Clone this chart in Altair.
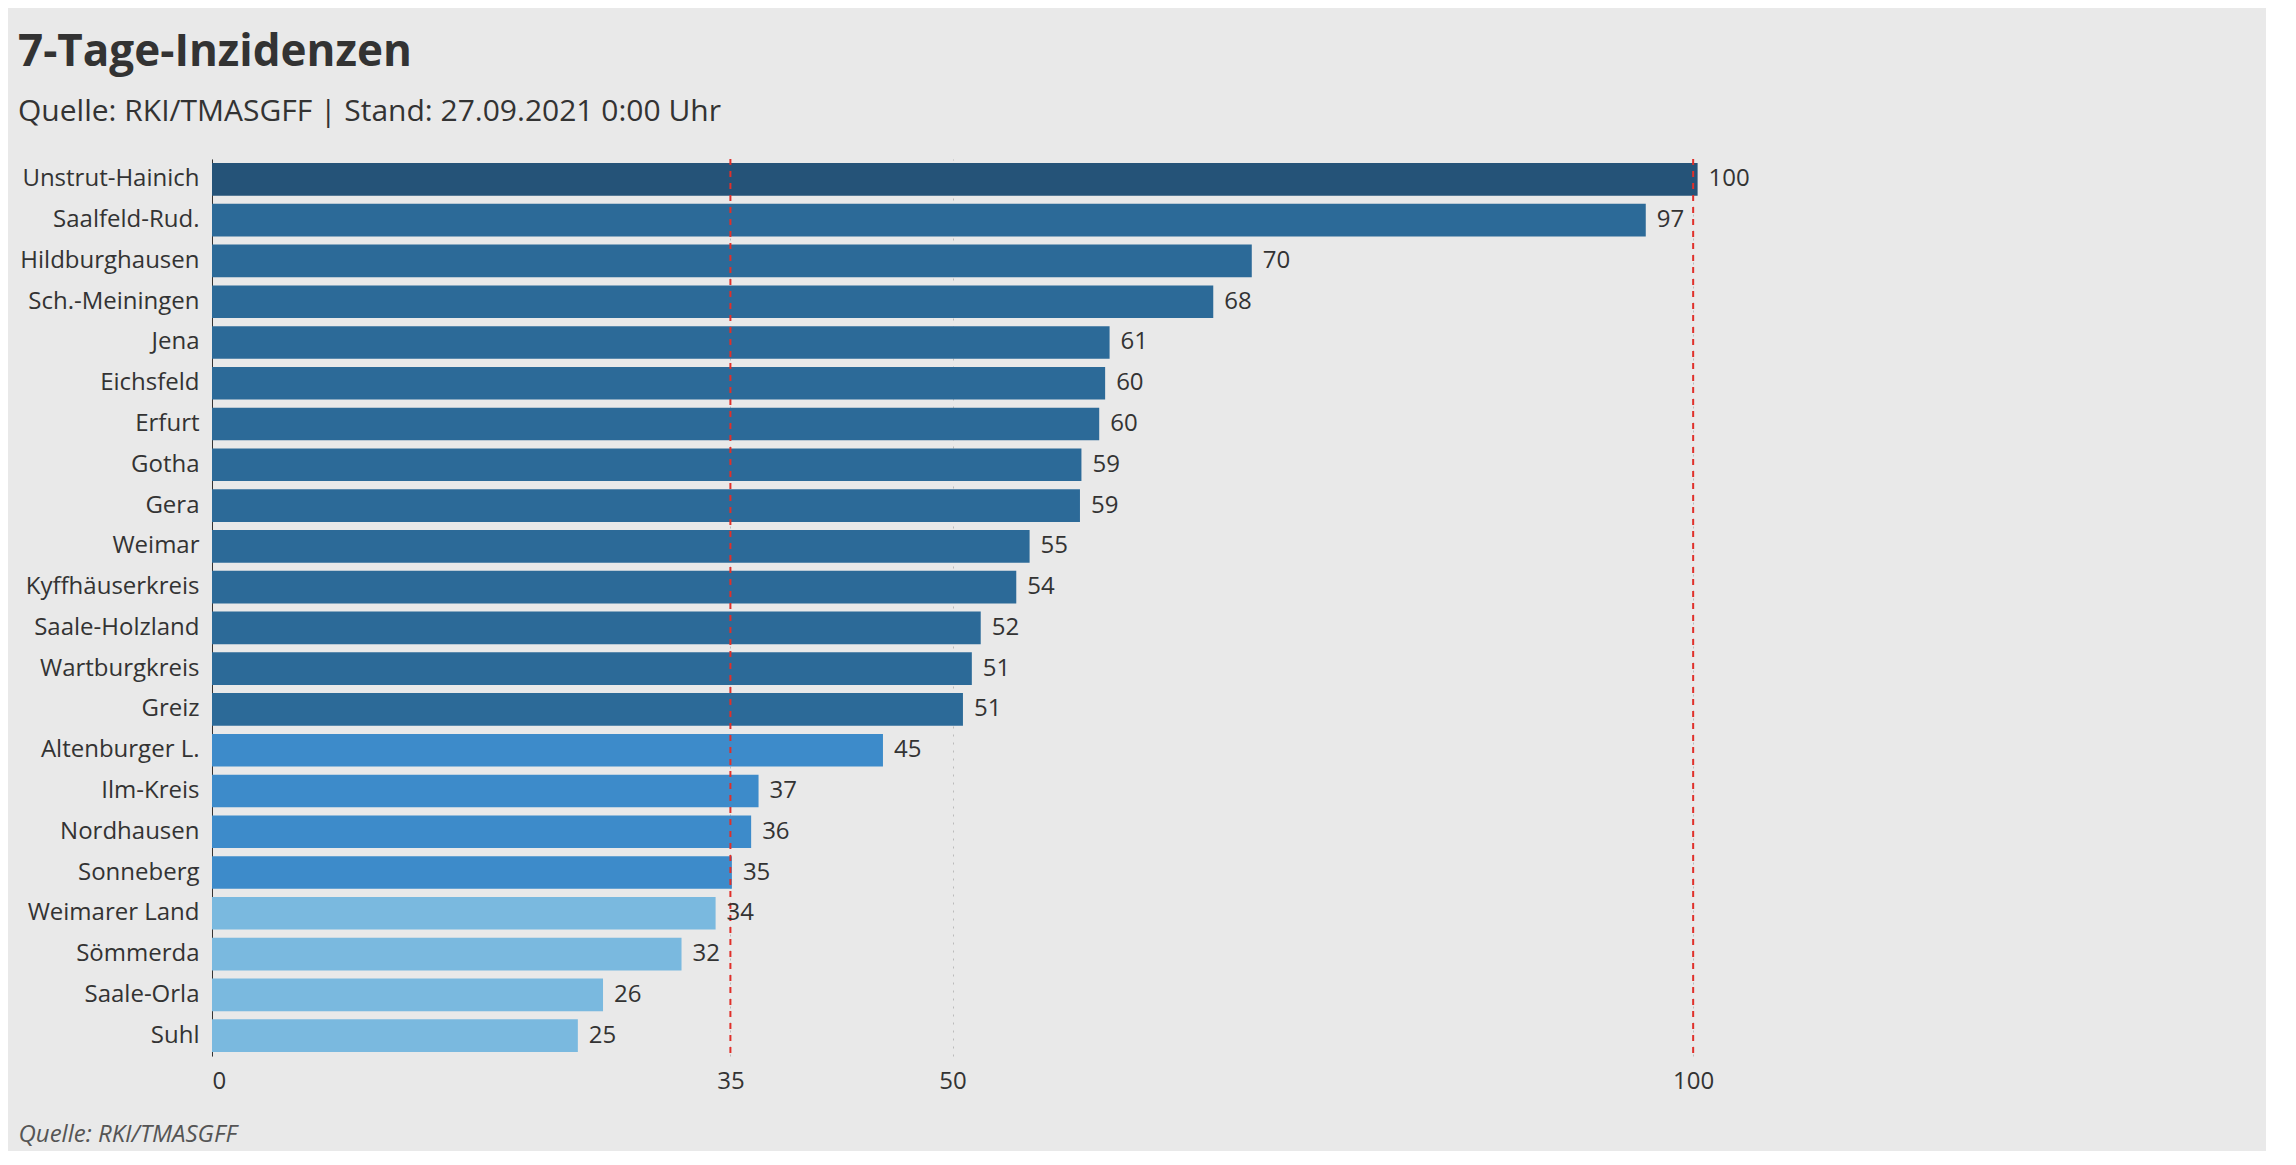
import altair as alt
import pandas as pd

kreise = ["Unstrut-Hainich", "Saalfeld-Rud.", "Hildburghausen", "Sch.-Meiningen", "Jena",
          "Eichsfeld", "Erfurt", "Gotha", "Gera", "Weimar", "Kyffhäuserkreis",
          "Saale-Holzland", "Wartburgkreis", "Greiz", "Altenburger L.", "Ilm-Kreis",
          "Nordhausen", "Sonneberg", "Weimarer Land", "Sömmerda", "Saale-Orla", "Suhl"]
inzidenz = [100.3, 96.8, 70.2, 67.6, 60.6, 60.3, 59.9, 58.7, 58.6, 55.2, 54.3,
            51.9, 51.3, 50.7, 45.3, 36.9, 36.4, 35.1, 34.0, 31.7, 26.4, 24.7]
schwellen = [35, 100]
tick_werte = [0, 35, 50, 100]
stufen = ["unter 35", "35 bis 50", "50 bis 100", "ab 100"]
farben = ["#7ab9df", "#3d8bca", "#2c6a98", "#255378"]

def stufe(v):
    if v >= 100:
        return stufen[3]
    if v >= 50:
        return stufen[2]
    if v >= 35:
        return stufen[1]
    return stufen[0]

df = pd.DataFrame({"Kreis": kreise, "Inzidenz": inzidenz})
df["Stufe"] = [stufe(v) for v in inzidenz]
df_s = pd.DataFrame({"Schwelle": schwellen})

FONT = "Open Sans"
TXT = "#333333"

x_scale = alt.Scale(domain=[0, 138], nice=False, zero=True)

bars = alt.Chart(df).mark_bar().encode(
    y=alt.Y("Kreis:N", sort=kreise,
            scale=alt.Scale(paddingInner=0.2, paddingOuter=0.1),
            axis=alt.Axis(title=None, ticks=False, domain=True, domainColor=TXT,
                          domainWidth=1, labelFontSize=24, labelColor=TXT,
                          labelFont=FONT, labelPadding=13, grid=False)),
    x=alt.X("Inzidenz:Q", scale=x_scale,
            axis=alt.Axis(values=tick_werte, title="Quelle: RKI/TMASGFF",
                          ticks=False, domain=False, labelFontSize=24,
                          labelColor=TXT, labelFont=FONT, labelPadding=13,
                          grid=True, gridColor="#bbbbbb", gridDash=[2, 6],
                          gridWidth=1, titleFont=FONT, titleFontSize=24,
                          titleFontStyle="italic", titleFontWeight="normal",
                          titleColor="#555555", titleAnchor="start",
                          titleAlign="left", titleX=-194, titleY=90,
                          titleBaseline="bottom")),
    color=alt.Color("Stufe:N", scale=alt.Scale(domain=stufen, range=farben),
                    legend=None),
)

labels = alt.Chart(df).mark_text(align="left", baseline="middle", dx=11,
                                 fontSize=24, font=FONT, color=TXT).encode(
    y=alt.Y("Kreis:N", sort=kreise),
    x=alt.X("Inzidenz:Q", scale=x_scale),
    text=alt.Text("Inzidenz:Q", format=".0f"),
)

rules = alt.Chart(df_s).mark_rule(color="#e0302a", strokeDash=[6, 6],
                                  strokeWidth=2).encode(
    x=alt.X("Schwelle:Q", scale=x_scale),
)

chart = alt.layer(bars, rules, labels).properties(
    width=2044, height=897,
    autosize=alt.AutoSizeParams(type="none"),
    padding={"left": 204, "top": 151, "right": 10, "bottom": 95},
    background="#e9e9e9",
    title=alt.TitleParams(
        text="7-Tage-Inzidenzen",
        subtitle="Quelle: RKI/TMASGFF | Stand: 27.09.2021 0:00 Uhr",
        anchor="start", frame="group", dx=-194, offset=31,
        font=FONT, fontSize=44, fontWeight="bold", color=TXT,
        subtitleFont=FONT, subtitleFontSize=30, subtitleColor=TXT,
        subtitlePadding=22,
    ),
).configure(font=FONT).configure_view(strokeWidth=0, stroke="transparent")

chart.save("out.html", embed_options={"renderer": "svg", "actions": False})
